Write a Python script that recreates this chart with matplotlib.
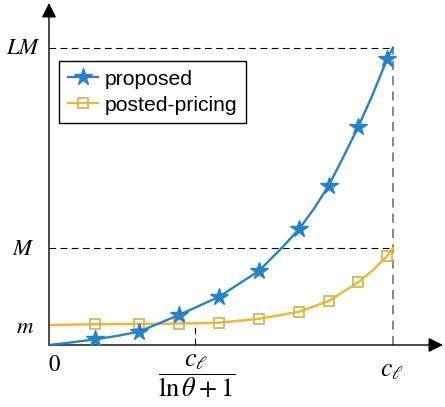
import matplotlib.pyplot as plt

plt.rcParams['mathtext.fontset'] = 'stix'
plt.rcParams['font.family'] = ['Liberation Sans', 'DejaVu Sans']

# levels (c_l = 1, LM = 1)
m_level = 0.067
M_level = 0.326
LM_level = 1.0
x_mid = 0.425   # c_l / (ln theta + 1)
x_end = 1.0     # c_l

# marker positions
x_marks = [0.134, 0.262, 0.378, 0.494, 0.611, 0.727, 0.813, 0.899, 0.983]
prop_marks = [0.019, 0.045, 0.101, 0.162, 0.250, 0.390, 0.536, 0.734, 0.962]
post_marks = [0.070, 0.071, 0.072, 0.075, 0.088, 0.112, 0.148, 0.211, 0.299]

# curve points (markers plus ends and a few extra reads)
x_prop = [0.0, 0.06, 0.134, 0.20, 0.262, 0.378, 0.494, 0.611, 0.676, 0.727, 0.77, 0.813, 0.856, 0.899, 0.94, 0.983, 1.0]
y_prop = [0.0, 0.008, 0.019, 0.031, 0.045, 0.101, 0.162, 0.250, 0.326, 0.390, 0.458, 0.536, 0.633, 0.734, 0.840, 0.962, 1.0]
x_post = [0.0, 0.134, 0.262, 0.378, 0.494, 0.611, 0.727, 0.813, 0.899, 0.94, 0.983, 1.0]
y_post = [0.067, 0.070, 0.071, 0.072, 0.075, 0.088, 0.112, 0.148, 0.211, 0.250, 0.299, 0.326]

blue = '#2882c6'
yellow = '#ecb838'

fig = plt.figure(figsize=(4.45, 4.07), dpi=100)
ax = fig.add_axes([49/445, 62/407, 394/445, 342/407])
ax.set_xlim(0, 394/344)
ax.set_ylim(0, 342/297.3)
ax.axis('off')

# dashed guides
ax.plot([0, x_end], [LM_level, LM_level], color='k', lw=0.8, ls=(0, (6, 4)))
ax.plot([0, x_end], [M_level, M_level], color='k', lw=0.8, ls=(0, (6, 4)))
ax.plot([x_end, x_end], [0, LM_level], color='#666666', lw=1.1, ls=(0, (6, 4)))
ax.plot([x_mid, x_mid], [0, m_level], color='k', lw=0.8, ls=(0, (6, 4)))

# curves
ax.plot(x_post, y_post, color=yellow, lw=1.8, zorder=3)
ax.plot(x_marks, post_marks, ls='none', marker='s', ms=7, mfc='none',
        mec='#d6b45c', mew=1.3, zorder=4)
ax.plot(x_prop, y_prop, color=blue, lw=1.7, zorder=5)
ax.plot(x_marks, prop_marks, ls='none', marker='*', ms=13, color=blue, zorder=6)

# legend handles
h1, = ax.plot([], [], color='#3a73c8', lw=1.6, marker='*', ms=13, mfc=blue, mec=blue)
h2, = ax.plot([], [], color=yellow, lw=1.6, marker='s', ms=7, mfc='none', mec='#d6b45c', mew=1.3)
leg = fig.legend([h1, h2], ['proposed', 'posted-pricing'], loc='upper left',
                 bbox_to_anchor=(59/445, 1 - 61/407), bbox_transform=fig.transFigure,
                 borderaxespad=0, fontsize=15.2, fancybox=False, framealpha=1,
                 edgecolor='k', handlelength=1.45, handletextpad=0.3,
                 labelspacing=0.32, borderpad=0.42)
leg.get_frame().set_linewidth(1.0)

# axes with arrows
ax.annotate('', xy=(1, 0), xytext=(0, 0), xycoords='axes fraction',
            arrowprops=dict(arrowstyle='-|>', color='k', lw=1.0, mutation_scale=22,
                            shrinkA=0, shrinkB=0))
ax.annotate('', xy=(0, 1), xytext=(0, 0), xycoords='axes fraction',
            arrowprops=dict(arrowstyle='-|>', color='k', lw=1.0, mutation_scale=22,
                            shrinkA=0, shrinkB=0))

# tick labels
fs = 16.5
ax.text(-0.0756, LM_level, r'$LM$', ha='center', va='center', fontsize=fs, clip_on=False)
ax.text(-0.0756, M_level, r'$M$', ha='center', va='center', fontsize=fs, clip_on=False)
ax.text(-0.070, m_level - 0.005, r'$m$', ha='center', va='center', fontsize=fs, clip_on=False)
ax.text(0.016, -0.067, r'$0$', ha='center', va='center', fontsize=fs, clip_on=False)
ax.text(0.997, -0.083, r'$c_\ell$', ha='center', va='center', fontsize=18.5, clip_on=False)
ax.text(0.430, -0.103, r'$\dfrac{c_\ell}{\ln\theta+1}$', ha='center', va='center',
        fontsize=19, clip_on=False)

fig.savefig('out.png', dpi=100)
